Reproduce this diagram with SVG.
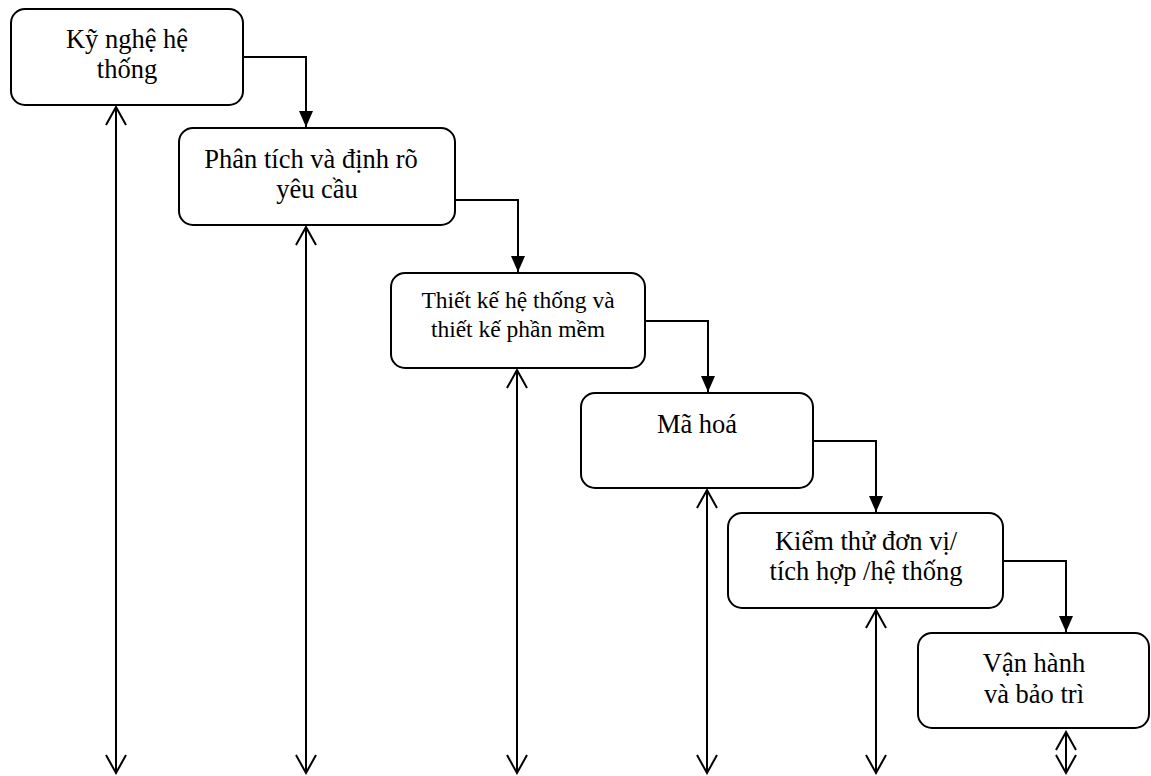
<svg xmlns="http://www.w3.org/2000/svg" width="1151" height="776" viewBox="0 0 1151 776">
  <style>
    .box { fill: #ffffff; stroke: #000000; stroke-width: 2; }
    .label { font-family: "Liberation Serif", "Times New Roman", serif; font-size: 26.5px; fill: #000000; text-anchor: middle; }
    .small { font-size: 23.5px; }
    .flow { fill: none; stroke: #000000; stroke-width: 2; marker-end: url(#solid); }
    .span { fill: none; stroke: #000000; stroke-width: 2; marker-start: url(#open); marker-end: url(#open); }
  </style>
  <defs>
    <marker id="solid" markerUnits="userSpaceOnUse" viewBox="0 0 16 14" refX="16" refY="7" markerWidth="16" markerHeight="14" orient="auto">
      <path d="M0,0 L16,7 L0,14 Z" fill="#000000"/>
    </marker>
    <marker id="open" markerUnits="userSpaceOnUse" viewBox="-2 -2 22 24" refX="18" refY="10" markerWidth="22" markerHeight="24" orient="auto-start-reverse">
      <path d="M0,0 L18,10 L0,20" fill="none" stroke="#000000" stroke-width="2"/>
    </marker>
  </defs>

  <rect width="1151" height="776" fill="#ffffff"/>

  <!-- stage-to-stage flow and feedback lines -->
  <g id="connectors">
    <polyline class="flow" points="243,57 306,57 306,127"/>
    <polyline class="flow" points="455,200 518,200 518,272"/>
    <polyline class="flow" points="645,321 708,321 708,392"/>
    <polyline class="flow" points="813,441 876,441 876,512"/>
    <polyline class="flow" points="1003,561 1066,561 1066,632"/>

    <line class="span" x1="116" y1="107" x2="116" y2="773"/>
    <line class="span" x1="306" y1="227" x2="306" y2="773"/>
    <line class="span" x1="517" y1="370" x2="517" y2="773"/>
    <line class="span" x1="707" y1="490" x2="707" y2="773"/>
    <line class="span" x1="876" y1="610" x2="876" y2="773"/>
    <line class="span" x1="1066" y1="732" x2="1066" y2="773"/>
  </g>

  <g id="node-system-engineering">
    <rect class="box" x="11" y="9" width="232" height="96" rx="14"/>
    <text class="label" x="127" y="48">Kỹ nghệ hệ</text>
    <text class="label" x="127" y="78">thống</text>
  </g>

  <g id="node-requirements">
    <rect class="box" x="179" y="128" width="276" height="97" rx="14"/>
    <text class="label" x="311" y="168">Phân tích và định rõ</text>
    <text class="label" x="317" y="198">yêu cầu</text>
  </g>

  <g id="node-design">
    <rect class="box" x="391" y="273" width="254" height="95" rx="14"/>
    <text class="label small" x="518" y="308">Thiết kế hệ thống và</text>
    <text class="label small" x="518" y="337">thiết kế phần mềm</text>
  </g>

  <g id="node-coding">
    <rect class="box" x="581" y="393" width="232" height="95" rx="14"/>
    <text class="label" x="697" y="433">Mã hoá</text>
  </g>

  <g id="node-testing">
    <rect class="box" x="728" y="513" width="275" height="95" rx="14"/>
    <text class="label" x="866" y="550">Kiểm thử đơn vị/</text>
    <text class="label" x="866" y="580">tích hợp /hệ thống</text>
  </g>

  <g id="node-operation">
    <rect class="box" x="918" y="633" width="231" height="95" rx="14"/>
    <text class="label" x="1034" y="672">Vận hành</text>
    <text class="label" x="1034" y="703">và bảo trì</text>
  </g>
</svg>
